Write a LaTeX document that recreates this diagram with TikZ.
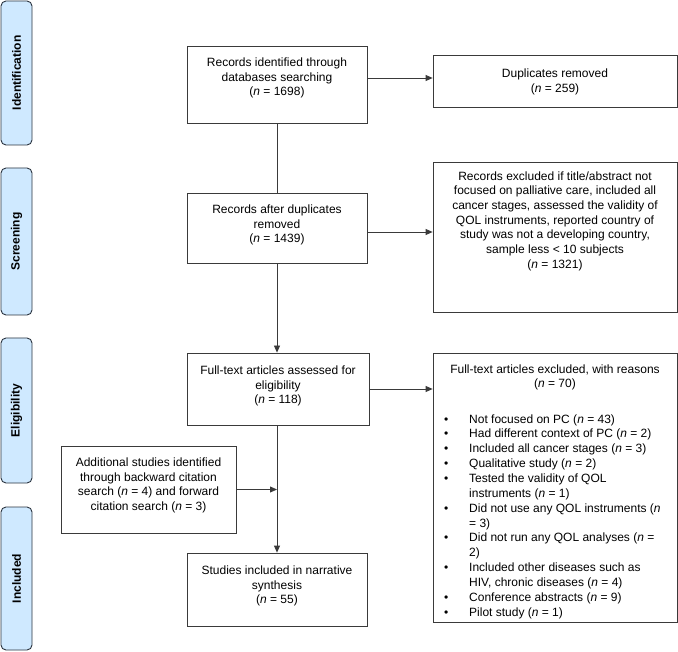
\documentclass[tikz,border=0pt]{standalone}
\usepackage{fontspec}
\setmainfont{Liberation Sans}
\usetikzlibrary{arrows.meta,positioning}
\definecolor{phasefill}{HTML}{CFE9FF}
\definecolor{phaseline}{HTML}{2B3440}
\definecolor{boxline}{HTML}{3A3A3A}
\newcommand{\nn}{\textit{n}}
\begin{document}
\begin{tikzpicture}[x=1pt,y=-1pt,
  phase/.style={draw=phaseline,fill=phasefill,rounded corners=5pt,line width=0.9pt,inner sep=0pt},
  phasetext/.style={font=\fontsize{12}{14}\selectfont\bfseries,rotate=90,inner sep=0pt},
  flowbox/.style={draw=boxline,line width=0.8pt,inner sep=0pt},
  flowtext/.style={align=center,font=\fontsize{12}{14.7}\selectfont,inner sep=0pt},
  arr/.style={draw=boxline,line width=0.8pt,-{Triangle[length=7pt,width=6pt]}},
  conn/.style={draw=boxline,line width=0.8pt}]
\useasboundingbox[fill=white] (0,0) rectangle (678,652);
% phase labels
\node[phase,minimum width=31pt,minimum height=144pt] (pid) at (16.5,73) {};
\node[phasetext] (tid) at (pid.center) {Identification};
\node[phase,minimum width=31pt,minimum height=147pt] (psc) at (16.5,241.5) {};
\node[phasetext] (tsc) at (psc.center) {Screening};
\node[phase,minimum width=31pt,minimum height=145pt] (pel) at (16.5,410.5) {};
\node[phasetext] (tel) at (pel.center) {Eligibility};
\node[phase,minimum width=31pt,minimum height=143pt] (pin) at (16.5,578.5) {};
\node[phasetext] (tin) at (pin.center) {Included};
% boxes
\node[flowbox,minimum width=180pt,minimum height=77pt] (b1) at (277,84.5) {};
\node[flowtext] (t1) at (277,78) {Records identified through\\databases searching\\(\nn{} = 1698)};
\node[flowbox,minimum width=244pt,minimum height=52pt] (dup) at (555,81) {};
\node[flowtext] (tdup) at (555,82) {Duplicates removed\\(\nn{} = 259)};
\node[flowbox,minimum width=180pt,minimum height=70pt] (b2) at (277,228) {};
\node[flowtext] (t2) at (277,225) {Records after duplicates\\removed\\(\nn{} = 1439)};
\node[flowbox,minimum width=244pt,minimum height=150pt] (ex1) at (555,237) {};
\node[flowtext] (tex1) at (555,221) {Records excluded if title/abstract not\\focused on palliative care, included all\\cancer stages, assessed the validity of\\QOL instruments, reported country of\\study was not a developing country,\\sample less < 10 subjects\\(\nn{} = 1321)};
\node[flowbox,minimum width=182pt,minimum height=72pt] (b3) at (278,389) {};
\node[flowtext] (t3) at (278,386) {Full-text articles assessed for\\eligibility\\(\nn{} = 118)};
\node[flowbox,minimum width=244pt,minimum height=269pt] (ex2) at (555,487.5) {};
\node[flowtext] (tex2h) at (555,377.5) {Full-text articles excluded, with reasons\\(\nn{} = 70)};
\node[inner sep=0pt,anchor=north west,font=\fontsize{12}{14.85}\selectfont] (tex2l) at (444,412.5) {%
\begin{tabular}{@{}p{25pt}@{}l@{}}
\textbullet & Not focused on PC (\nn{} = 43)\\
\textbullet & Had different context of PC (\nn{} = 2)\\
\textbullet & Included all cancer stages (\nn{} = 3)\\
\textbullet & Qualitative study (\nn{} = 2)\\
\textbullet & Tested the validity of QOL\\
 & instruments (\nn{} = 1)\\
\textbullet & Did not use any QOL instruments (\nn\\
 & = 3)\\
\textbullet & Did not run any QOL analyses (\nn{} =\\
 & 2)\\
\textbullet & Included other diseases such as\\
 & HIV, chronic diseases (\nn{} = 4)\\
\textbullet & Conference abstracts (\nn{} = 9)\\
\textbullet & Pilot study (\nn{} = 1)
\end{tabular}};
\node[flowbox,minimum width=175pt,minimum height=87pt] (add) at (148.5,489.5) {};
\node[flowtext] (tadd) at (148.5,485.5) {Additional studies identified\\through backward citation\\search (\nn{} = 4) and forward\\citation search (\nn{} = 3)};
\node[flowbox,minimum width=180pt,minimum height=73pt] (b4) at (277,589.5) {};
\node[flowtext] (t4) at (277,586) {Studies included in narrative\\synthesis\\(\nn{} = 55)};
% connectors
\draw[arr] ([yshift=6.5pt]b1.east) -- ([yshift=6.5pt]b1.east -| dup.west);
\draw[conn] (b1.south) -- (b2.north);
\draw[arr] ([yshift=-4pt]b2.east) -- ([yshift=-4pt]b2.east -| ex1.west);
\draw[arr] (b2.south) -- (b2.south |- b3.north);
\draw[arr] (b3.east) -- (b3.east -| ex2.west);
\draw[arr] ([xshift=-1pt]b3.south) -- ([xshift=-1pt]b3.south |- b4.north);
\draw[arr] (add.east) -- ([xshift=-1pt]add.east -| b3.south);
\end{tikzpicture}
\end{document}
